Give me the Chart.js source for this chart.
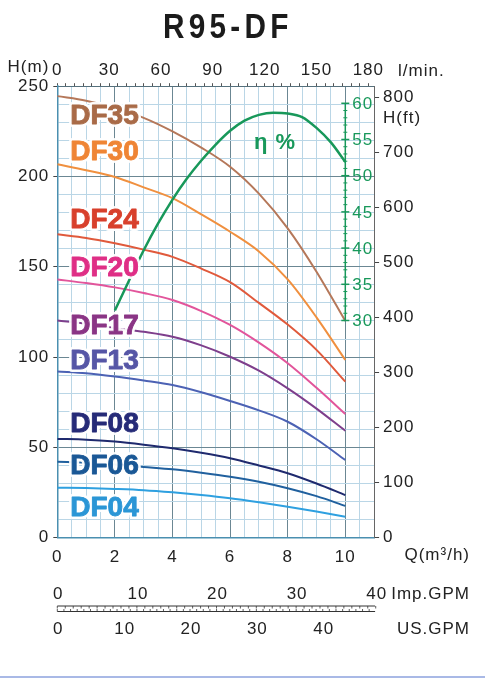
<!DOCTYPE html>
<html><head><meta charset="utf-8">
<script src="https://cdn.jsdelivr.net/npm/chart.js@4.4.1/dist/chart.umd.min.js"></script>
<style>
html,body{margin:0;padding:0;background:#fff;}
#wrap{position:relative;width:485px;height:679px;overflow:hidden;}
#c{position:absolute;left:0;top:0;width:485px;height:679px;}
#title{position:absolute;left:163px;top:8px;font:bold 35px "Liberation Sans",Arial,sans-serif;letter-spacing:5px;color:#1b1b1b;line-height:1;white-space:nowrap;transform:scaleX(0.85);transform-origin:0 0;}
#rule{position:absolute;left:0;top:676px;width:485px;height:2px;background:#a9b9e6;}
</style></head><body>
<div id="wrap"><canvas id="c" width="485" height="679"></canvas><div id="title">R95-DF</div><div id="rule"></div></div>
<script>
// ---- data ----
const flowQ   = [0, 1, 2, 3, 4, 5, 6, 7, 8, 9, 10];
const headDF35 = [244.5, 242, 238, 232.5, 225, 216, 205.4, 190.5, 171.3, 147.3, 120];
const headDF30 = [206.8, 203.5, 199.7, 194, 188, 179, 169.4, 158.5, 143, 122, 98.4];
const headDF24 = [168, 166, 163, 159.5, 155.5, 149, 141.5, 130, 118, 104, 86.4];
const headDF20 = [143, 141, 138.6, 135.5, 131.6, 125.5, 117.8, 108, 96.6, 83, 68.5];
const headDF17 = [120.2, 118.5, 116, 114, 111.3, 106.5, 100.2, 92.5, 82.7, 71.5, 59.2];
const headDF13 = [92, 91, 89.2, 87, 84.5, 80.5, 75.7, 70.5, 64.2, 54.5, 43];
const headDF08 = [54.7, 54.3, 53.2, 51.5, 49.5, 47, 44, 40, 35.7, 30, 23.6];
const headDF06 = [42, 41.5, 40.5, 39.2, 37.9, 36, 33.8, 31, 27.4, 23, 17.6];
const headDF04 = [27.7, 27.5, 27, 26.3, 25.1, 23.6, 21.8, 19.6, 17.2, 14.5, 11.6];
const effQ   = [2, 2.5, 3, 3.5, 4, 4.5, 5, 5.5, 6, 6.5, 7, 7.5, 8, 8.5, 9, 9.5, 10];
const effPct = [31.4, 35.6, 39.7, 43.4, 46.7, 49.6, 52.1, 54.3, 56.2, 57.6, 58.4, 58.7, 58.6, 58.1, 56.6, 54.6, 51.9];
const models = ['DF35','DF30','DF24','DF20','DF17','DF13','DF08','DF06','DF04'];
const heads  = [headDF35, headDF30, headDF24, headDF20, headDF17, headDF13, headDF08, headDF06, headDF04];
const qTickLabels   = [0, 2, 4, 6, 8, 10];
const lpmTickLabels = [0, 30, 60, 90, 120, 150, 180];
const hTickLabels   = [0, 50, 100, 150, 200, 250];
const ftTickLabels  = [0, 100, 200, 300, 400, 500, 600, 700, 800];
const effTickLabels = [30, 35, 40, 45, 50, 55, 60];
const impGpmLabels  = [0, 10, 20, 30, 40];
const usGpmLabels   = [0, 10, 20, 30, 40];

// ---- styles ----
const lineColors = ['#b5785a','#f0903f','#e05a3c','#e2559b','#7e3f8c','#4c62b4','#1f2a6e','#20609e','#2ea0e0'];
const textColors = ['#a96b48','#ef8535','#d8402c','#df2f86','#8a3585','#5656a6','#262b78','#1a5896','#2b96d6'];
const labelAnchorH = [234, 213.9, 176.5, 150, 117.8, 98.4, 63.5, 40.3, 17];
const green = '#18985a';
const gridMinor = '#bad6e6', gridMajor = '#6b8793', frame = '#4a8fb0';
const FONT = '"Liberation Sans", Arial, sans-serif';
const QMAX = 11;
const IMP_Q = 0.2764, US_Q = 0.2304;   // m3/h per GPM as drawn on the reference scales
const near = (v, m) => Math.abs(v - Math.round(v / m) * m) < 1e-6;

const datasets = [{
  label: 'η', data: effQ.map((q, i) => ({x: q, y: effPct[i]})), yAxisID: 'y3',
  borderColor: green, borderWidth: 2.5, pointRadius: 0, cubicInterpolationMode: 'monotone', fill: false
}];
models.forEach((m, k) => datasets.push({
  label: m, data: flowQ.map((q, i) => ({x: q, y: heads[k][i]})), yAxisID: 'y',
  borderColor: lineColors[k], borderWidth: 2, pointRadius: 0, cubicInterpolationMode: 'monotone', fill: false
}));

const tickFont = {family: FONT, size: 17};

const decor = {
  id: 'decor',
  beforeDraw(chart) { chart.ctx.letterSpacing = '1px'; },
  afterDatasetsDraw(chart) {
    const {ctx, scales: {x, y, y3}, chartArea: ca} = chart;
    ctx.save();
    // efficiency axis
    const ex = x.getPixelForValue(10);
    ctx.strokeStyle = green; ctx.lineWidth = 1.5;
    ctx.beginPath(); ctx.moveTo(ex, y3.getPixelForValue(30)); ctx.lineTo(ex, y3.getPixelForValue(60)); ctx.stroke();
    for (let v = 30; v <= 60; v++) {
      const py = y3.getPixelForValue(v), maj = v % 5 === 0, L = maj ? 4 : 2;
      ctx.lineWidth = maj ? 1.5 : 1;
      ctx.beginPath(); ctx.moveTo(ex - L, py); ctx.lineTo(ex + L, py); ctx.stroke();
    }
    ctx.fillStyle = green; ctx.font = '17px ' + FONT; ctx.textAlign = 'left'; ctx.textBaseline = 'middle';
    ctx.letterSpacing = '1px';
    effTickLabels.forEach(v => ctx.fillText(String(v), ex + 7, y3.getPixelForValue(v) + 1));
    ctx.font = 'bold 22px ' + FONT; ctx.textAlign = 'center';
    ctx.fillText('η %', x.getPixelForValue(7.56), y3.getPixelForValue(54.5));

    // curve labels
    ctx.letterSpacing = '0px';
    ctx.font = 'bold 28px ' + FONT; ctx.textAlign = 'left'; ctx.lineJoin = 'round';
    models.forEach((m, k) => {
      const px = x.getPixelForValue(0.45), py = y.getPixelForValue(labelAnchorH[k]) + 1;
      ctx.strokeStyle = 'rgba(255,255,255,0.95)'; ctx.lineWidth = 6;
      ctx.strokeText(m, px, py);
      ctx.fillStyle = textColors[k]; ctx.fillText(m, px, py);
      ctx.strokeStyle = textColors[k]; ctx.lineWidth = 0.9; ctx.strokeText(m, px, py);
    });

    // unit labels
    ctx.letterSpacing = '1px';
    ctx.fillStyle = '#222'; ctx.font = '17px ' + FONT; ctx.textBaseline = 'middle';
    ctx.textAlign = 'right'; ctx.fillText('H(m)', ca.left - 8, 67);
    ctx.textAlign = 'left';
    ctx.fillText('l/min.', 398, 71.5);
    ctx.fillText('H(ft)', 383, 118);
    ctx.textAlign = 'right';
    ctx.fillText('Q(m³/h)', 470, 555);
    ctx.fillText('Imp.GPM', 470, 594);
    ctx.fillText('US.GPM', 470, 629);

    // GPM scales
    const y1 = 606, y2 = 611.5, x0 = x.getPixelForValue(0), x1 = ca.right + 1;
    ctx.strokeStyle = '#333'; ctx.lineWidth = 1;
    ctx.beginPath(); ctx.moveTo(x0, y1); ctx.lineTo(x1, y1); ctx.moveTo(x0, y2); ctx.lineTo(x1, y2); ctx.stroke();
    ctx.lineWidth = 0.8;
    for (let g = 0; g <= 40; g++) { const px = x.getPixelForValue(g * IMP_Q); ctx.beginPath(); ctx.moveTo(px, y1); ctx.lineTo(px, y1 + 2.5); ctx.stroke(); }
    for (let g = 0; g <= 48; g++) { const px = x.getPixelForValue(g * US_Q); if (px > x1) break; ctx.beginPath(); ctx.moveTo(px, y2); ctx.lineTo(px, y2 - 2.5); ctx.stroke(); }
    ctx.textAlign = 'center';
    impGpmLabels.forEach(g => ctx.fillText(String(g), x.getPixelForValue(g * IMP_Q) + 1, 594));
    usGpmLabels.forEach(g => ctx.fillText(String(g), x.getPixelForValue(g * US_Q) + 1, 629));
    ctx.restore();
  }
};

new Chart(document.getElementById('c'), {
  type: 'line',
  data: {datasets},
  plugins: [decor],
  options: {
    responsive: false, animation: false, devicePixelRatio: 1,
    layout: {padding: 0},
    plugins: {legend: {display: false}, tooltip: {enabled: false}, title: {display: false}},
    scales: {
      x: {
        type: 'linear', position: 'bottom', min: 0, max: QMAX,
        afterFit: s => { s.height = 141.3; },
        ticks: {stepSize: 0.5, autoSkip: false, maxRotation: 0, padding: 9, color: '#222', font: tickFont,
          callback: v => (near(v, 2) && qTickLabels.includes(Math.round(v))) ? String(Math.round(v)) : ''},
        grid: {drawTicks: false,
          color: c => (c.tick && near(c.tick.value, 2) && c.tick.value > 0 && c.tick.value <= 10) ? gridMajor : gridMinor,
          lineWidth: 1},
        border: {display: true, color: frame, width: 1.5}
      },
      x2: {
        type: 'linear', position: 'top', min: 0, max: QMAX * 1000 / 60,
        afterFit: s => { s.height = 86.2; },
        ticks: {stepSize: 5, includeBounds: false, autoSkip: false, maxRotation: 0, padding: 3, color: '#222', font: tickFont,
          callback: v => (near(v, 30) && lpmTickLabels.includes(Math.round(v))) ? String(Math.round(v)) : ''},
        grid: {drawOnChartArea: false, tickLength: 3,
          tickColor: c => (c.tick && near(c.tick.value, 5)) ? '#555' : 'rgba(0,0,0,0)'},
        border: {display: true, color: '#55707c', width: 1}
      },
      y: {
        type: 'linear', position: 'left', min: 0, max: 250,
        afterFit: s => { s.width = 57.3; },
        ticks: {stepSize: 10, autoSkip: false, padding: 4, color: '#222', font: tickFont,
          callback: v => (near(v, 50) && hTickLabels.includes(Math.round(v))) ? String(Math.round(v)) : ''},
        grid: {tickLength: 4,
          color: c => (c.tick && near(c.tick.value, 50) && c.tick.value > 0) ? gridMajor : gridMinor,
          tickColor: c => (c.tick && near(c.tick.value, 50)) ? '#444' : 'rgba(0,0,0,0)',
          lineWidth: 1},
        border: {display: true, color: frame, width: 1.5}
      },
      y2: {
        type: 'linear', position: 'right', min: 0, max: 250 / 0.3048,
        afterFit: s => { s.width = 485 - 57.3 - 28.8 * QMAX; },
        ticks: {stepSize: 100, includeBounds: false, autoSkip: false, padding: 4, color: '#222', font: tickFont,
          callback: v => (near(v, 100) && ftTickLabels.includes(Math.round(v))) ? String(Math.round(v)) : ''},
        grid: {drawOnChartArea: false, tickLength: 5,
          tickColor: c => (c.tick && near(c.tick.value, 100)) ? '#444' : 'rgba(0,0,0,0)'},
        border: {display: true, color: '#666', width: 1, dash: [1, 2]}
      },
      y3: {type: 'linear', position: 'right', display: false, min: 0, max: 62.36}
    }
  }
});
</script>
</body></html>
